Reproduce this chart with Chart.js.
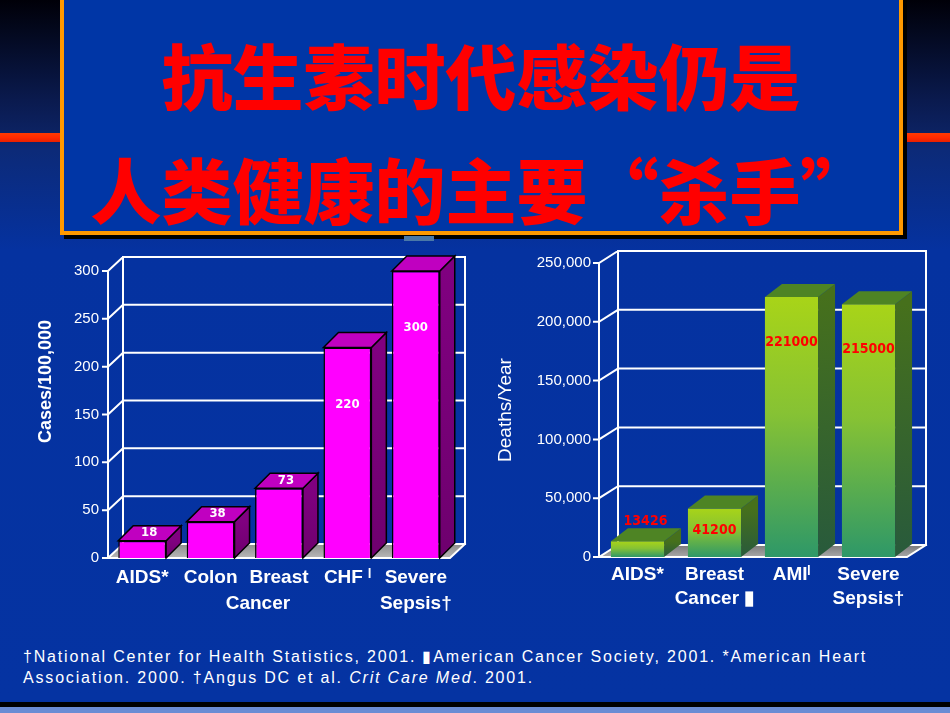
<!DOCTYPE html>
<html>
<head>
<meta charset="utf-8">
<script src="https://cdn.jsdelivr.net/npm/chart.js@4/dist/chart.umd.min.js"></script>
<style>
  html, body { margin:0; padding:0; }
  body { width:950px; height:713px; position:relative; overflow:hidden;
    background: linear-gradient(to bottom, #000008 0px, #0a1a4e 100px, #0c2262 132px, #0c2a78 150px, #0532a0 250px, #0533a2 700px); }
  .redline { position:absolute; left:0; top:133px; width:950px; height:9px;
    background: linear-gradient(to bottom, #ff3a00, #ff2a00 50%, #e82000); }
  .titlebox { position:absolute; left:60px; top:-4px; width:843px; height:239px; box-sizing:border-box;
    border:4px solid #ff9900; background:#0036a6; box-shadow: 4px 4px 0 #000; }
  .t { position:absolute; color:#ff0000; font-family:"Noto Sans CJK SC"; font-weight:900; white-space:nowrap;
    line-height:1; text-align:center; }
  .teal { position:absolute; left:404px; top:236px; width:30px; height:5px; background:#4a78a8; }
  canvas { position:absolute; }
  #foot { position:absolute; left:23px; top:646px; color:#fff; font-family:"Liberation Sans", Arial, sans-serif;
    font-size:16px; line-height:21px; white-space:nowrap; }
  .bb { position:absolute; left:0; top:702px; width:950px; height:5px; background:#000; }
  .bs { position:absolute; left:0; top:707px; width:950px; height:6px; background:#6a8cd4; }
</style>
</head>
<body>
<div class="redline"></div>
<div class="titlebox"></div>
<div class="t" id="t1" style="left:0; width:962px; top:38px; font-size:71px;">抗生素时代感染仍是</div>
<div class="t" id="t2" style="left:0; width:962px; top:152px; font-size:71px;">人类健康的主要“杀手”</div>
<div class="teal"></div>
<div style="position:absolute;left:30px;top:240px;width:450px;height:390px;"><canvas id="c1" width="450" height="390"></canvas></div>
<div style="position:absolute;left:490px;top:240px;width:460px;height:390px;"><canvas id="c2" width="460" height="390"></canvas></div>
<div id="foot"><span id="fl1">†National Center for Health Statistics, 2001. ▮American Cancer Society, 2001. *American Heart</span><br><span id="fl2">Association. 2000. †Angus DC et al. <i>Crit Care Med</i>. 2001.</span></div>
<div class="bb"></div><div class="bs"></div>
<script>
// ---------- data ----------
const casesCategories = [['AIDS*'], ['Colon'], ['Breast', 'Cancer        '], ['CHF ˡ'], ['Severe', 'Sepsis†']];
const casesValues = [18, 38, 73, 220, 300];
const casesTicks = [0, 50, 100, 150, 200, 250, 300];

const deathsCategories = [['AIDS*'], ['Breast', 'Cancer ▮'], ['AMIˡ'], ['Severe', 'Sepsis†']];
const deathsValues = [13426, 41200, 221000, 215000];
const deathsTicks = [0, 50000, 100000, 150000, 200000, 250000];

const leftTitle = 'Cases/100,000';
const rightTitle = 'Deaths/Year';

// ---------- footnote fit (layout only) ----------
(function () {
  const l1 = document.getElementById('fl1');
  const n = l1.textContent.length;
  const w = l1.getBoundingClientRect().width;
  const ls = (844 - w) / n;
  document.getElementById('foot').style.letterSpacing = ls.toFixed(2) + 'px';
})();

// ---------- helpers ----------
const FONT = "'Liberation Sans', Arial, sans-serif";
const NARROW = "'Liberation Sans Narrow', 'DejaVu Sans Condensed', 'Liberation Sans', sans-serif";

function poly(ctx, pts) {
  ctx.beginPath(); ctx.moveTo(pts[0][0], pts[0][1]);
  for (let i = 1; i < pts.length; i++) ctx.lineTo(pts[i][0], pts[i][1]);
  ctx.closePath();
}

function make3D(cfg) {
  return {
    id: 'threeD',
    beforeDatasetsDraw(chart) {
      const { ctx, chartArea: a, scales: { y } } = chart;
      const { dx, dy } = cfg;
      const y0 = y.getPixelForValue(y.min), yT = y.getPixelForValue(y.max);
      ctx.save();
      const fg = ctx.createLinearGradient(0, y0 - dy, 0, y0);
      fg.addColorStop(0, cfg.floor[0]); fg.addColorStop(1, cfg.floor[1]);
      ctx.fillStyle = fg;
      poly(ctx, [[a.left, y0], [a.right, y0], [a.right + dx, y0 - dy], [a.left + dx, y0 - dy]]);
      ctx.fill();
      ctx.strokeStyle = cfg.gridColor; ctx.lineWidth = 2; ctx.lineCap = 'square';
      ctx.beginPath();
      y.ticks.forEach(t => {
        const py = y.getPixelForValue(t.value);
        ctx.moveTo(a.left - 5, py); ctx.lineTo(a.left, py);
        ctx.lineTo(a.left + dx, py - dy); ctx.lineTo(a.right + dx, py - dy);
      });
      ctx.moveTo(a.left + dx, yT - dy); ctx.lineTo(a.left + dx, y0 - dy);
      ctx.moveTo(a.right + dx, yT - dy); ctx.lineTo(a.right + dx, y0 - dy);
      ctx.moveTo(a.left, yT); ctx.lineTo(a.left, y0); ctx.lineTo(a.right, y0); ctx.lineTo(a.right + dx, y0 - dy);
      ctx.stroke();
      ctx.restore();
    },
    afterDatasetsDraw(chart) {
      const { ctx } = chart;
      const { bdx, bdy } = cfg;
      const meta = chart.getDatasetMeta(0);
      const vals = chart.data.datasets[0].data;
      ctx.save();
      meta.data.forEach((bar, i) => {
        const { x, y, base, width } = bar.getProps(['x', 'y', 'base', 'width'], true);
        const l = x - width / 2, r = x + width / 2;
        const sg = ctx.createLinearGradient(0, y, 0, base);
        sg.addColorStop(0, cfg.side[0]); sg.addColorStop(1, cfg.side[1]);
        ctx.fillStyle = sg;
        poly(ctx, [[r, y], [r + bdx, y - bdy], [r + bdx, base - bdy], [r, base]]);
        ctx.fill();
        if (cfg.outline) { ctx.strokeStyle = cfg.outline; ctx.lineWidth = 1.5; ctx.stroke(); }
        ctx.fillStyle = cfg.top;
        poly(ctx, [[l, y], [l + bdx, y - bdy], [r + bdx, y - bdy], [r, y]]);
        ctx.fill();
        if (cfg.outline) { ctx.stroke(); }
      });
      ctx.font = cfg.labelFont; ctx.fillStyle = cfg.labelColor;
      ctx.textAlign = 'center'; ctx.textBaseline = 'middle';
      meta.data.forEach((bar, i) => {
        const { x, y, base } = bar.getProps(['x', 'y', 'base'], true);
        const p = cfg.labelPos(x, y, base - y);
        ctx.fillText(String(vals[i]), p[0], p[1]);
      });
      ctx.restore();
    }
  };
}

const leftTitlePlugin = {
  id: 'leftTitle',
  afterDraw(chart) {
    const { ctx, chartArea: a } = chart;
    ctx.save();
    ctx.translate(16, (a.top + a.bottom) / 2 - 33);
    ctx.rotate(-Math.PI / 2);
    ctx.font = "bold 18px " + FONT; ctx.fillStyle = '#fff';
    ctx.textAlign = 'center'; ctx.textBaseline = 'middle';
    ctx.fillText(leftTitle, 0, 0);
    ctx.restore();
  }
};

function commonScales(ticks, yWidth, xHeight, yFont, xLineHeight, xPad) {
  return {
    x: {
      grid: { display: false, drawTicks: false }, border: { display: false },
      ticks: { color: '#fff', font: { family: FONT, size: 19, weight: 'bold', lineHeight: xLineHeight },
               padding: xPad, maxRotation: 0, minRotation: 0, autoSkip: false },
      afterFit: s => { s.height = xHeight; }
    },
    y: {
      min: ticks[0], max: ticks[ticks.length - 1],
      grid: { display: false, drawTicks: false }, border: { display: false },
      afterBuildTicks: s => { s.ticks = ticks.map(v => ({ value: v })); },
      ticks: { color: '#fff', font: yFont, padding: 9,
               callback: v => v.toLocaleString('en-US') },
      afterFit: s => { s.width = yWidth; }
    }
  };
}

Chart.defaults.animation = false;

// ---------- left chart ----------
const lScales = commonScales(casesTicks, 78, 72, { family: FONT, size: 15 }, 1.4, 6);
new Chart(document.getElementById('c1'), {
  type: 'bar',
  data: { labels: casesCategories,
    datasets: [{ data: casesValues, backgroundColor: '#ff00ff', borderColor: '#000', borderWidth: 1.5,
      barPercentage: 0.7, categoryPercentage: 1 }] },
  options: {
    responsive: false, maintainAspectRatio: false,
    layout: { padding: { top: 31, right: 30, left: 0, bottom: 0 } },
    plugins: { legend: { display: false }, tooltip: { enabled: false } },
    scales: lScales
  },
  plugins: [make3D({
    dx: 15, dy: 14, bdx: 15, bdy: 15, floor: ['#8c8c8c', '#b8b8b8'], gridColor: '#ffffff',
    side: ['#800080', '#6e006e'], top: '#c000c0', outline: '#000',
    labelFont: "bold 13px " + NARROW, labelColor: '#ffffff',
    labelPos: (x, y, h) => h < 100 ? [x + 7, y - 8] : [x, y + 57]
  }), leftTitlePlugin]
});

// ---------- right chart ----------
const rScales = commonScales(deathsTicks, 109, 73, { family: FONT, size: 15 }, 1.3, 5);
rScales.y.title = { display: true, text: rightTitle, color: '#fff', font: { family: FONT, size: 19 }, padding: { top: 4, bottom: 0 } };
rScales.y.ticks.padding = 8;
new Chart(document.getElementById('c2'), {
  type: 'bar',
  data: { labels: deathsCategories,
    datasets: [{ data: deathsValues,
      backgroundColor: c => {
        const ch = c.chart, ys = ch.scales && ch.scales.y;
        if (!ys || c.type !== 'data') return '#80c030';
        const t = ys.getPixelForValue(c.raw), b = ys.getPixelForValue(0);
        if (!isFinite(t) || !isFinite(b) || t === b) return '#80c030';
        const g = ch.ctx.createLinearGradient(0, t, 0, b);
        g.addColorStop(0, '#a8d418'); g.addColorStop(0.45, '#86c234'); g.addColorStop(1, '#2e9868');
        return g;
      },
      borderWidth: 0, barPercentage: 0.69, categoryPercentage: 1 }] },
  options: {
    responsive: false, maintainAspectRatio: false,
    layout: { padding: { top: 23, right: 43, left: 0, bottom: 0 } },
    plugins: { legend: { display: false }, tooltip: { enabled: false } },
    scales: rScales
  },
  plugins: [make3D({
    dx: 19, dy: 12, bdx: 17, bdy: 13, floor: ['#7a7a7a', '#a8a8a8'], gridColor: '#ffffff',
    side: ['#46701c', '#285a3c'], top: '#4e8424', outline: null,
    labelFont: "bold 14px " + NARROW, labelColor: '#ff0000',
    labelPos: (x, y, h) => h < 25 ? [x + 8, y - 20] : [x, y + Math.min(45, h * 0.45)]
  })]
});
</script>
</body>
</html>
